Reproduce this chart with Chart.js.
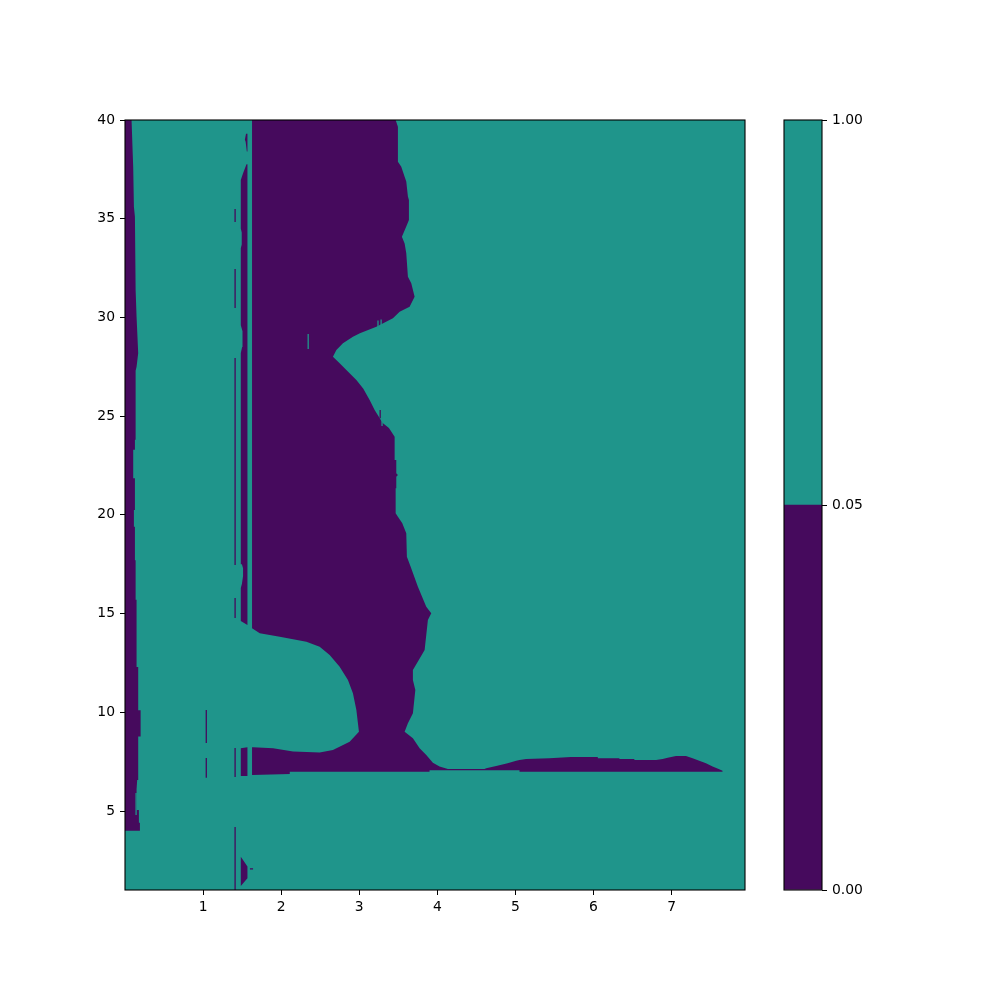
<!DOCTYPE html>
<html>
<head>
<meta charset="utf-8">
<script src="https://cdn.jsdelivr.net/npm/chart.js@4.4.1/dist/chart.umd.min.js"></script>
<style>
  html, body { margin: 0; padding: 0; background: #ffffff; }
  #wrap { position: relative; width: 1000px; height: 1000px; }
  canvas { position: absolute; left: 0; top: 0; }
</style>
</head>
<body>
<div id="wrap">
  <canvas id="main" width="1000" height="1000"></canvas>
  <canvas id="cbar" width="1000" height="1000"></canvas>
</div>
<script>
// ---------------- data ----------------
const xDomain = [0, 7.94];
const yDomain = [1, 40];
const xTickValues = [1, 2, 3, 4, 5, 6, 7];
const yTickValues = [5, 10, 15, 20, 25, 30, 35, 40];
const colorbarLevels = [0.00, 0.05, 1.00];
const levelColors = ['#460a5d', '#1f958b'];   // [0, 0.05) , [0.05, 1]

// regions with value < 0.05 (polygons, data coordinates [x, y])
const leftStripRegion = [
  [0, 40], [0.084, 40], [0.097, 38.48], [0.105, 37.63], [0.114, 35.61], [0.127, 35.1],
  [0.136, 31.39], [0.148, 30.04], [0.169, 28.18], [0.148, 27.5], [0.136, 27.3], [0.136, 23.8],
  [0.127, 23.8], [0.127, 23.3], [0.105, 23.3], [0.105, 21.85], [0.127, 21.85], [0.127, 20.25],
  [0.114, 20.25], [0.114, 19.4], [0.127, 19.4], [0.127, 17.7], [0.136, 17.7], [0.136, 15.7],
  [0.148, 15.7], [0.148, 12.3], [0.169, 12.3], [0.169, 10.1], [0.2, 10.1], [0.2, 8.77],
  [0.169, 8.77], [0.169, 6.57], [0.156, 6.57], [0.148, 6.1], [0.148, 5.05], [0.178, 5.05],
  [0.178, 4.4], [0.191, 4.4], [0.191, 4.0], [0, 4.0]
];
const narrowBlobRegion = [
  [1.55, 39.3], [1.568, 39.3], [1.568, 38.4], [1.56, 38.4], [1.545, 38.9], [1.535, 39.0]
];
const narrowStripRegion = [
  [1.556, 37.76], [1.568, 37.76], [1.568, 14.42], [1.483, 14.63], [1.483, 16.3], [1.497, 16.5],
  [1.512, 16.9], [1.512, 17.3], [1.497, 17.5], [1.483, 17.5], [1.483, 28.2], [1.50, 28.5],
  [1.51, 28.8], [1.50, 29.3], [1.483, 29.6], [1.483, 33.5], [1.495, 33.7], [1.495, 34.3],
  [1.483, 34.5], [1.483, 36.96], [1.512, 37.3]
];
const narrowLowRegion = [
  [1.483, 8.18], [1.568, 8.23], [1.568, 6.77], [1.483, 6.77]
];
const smallTriangleRegion = [
  [1.483, 2.69], [1.568, 2.19], [1.568, 1.60], [1.483, 1.20]
];
const mainRegion = [
  [1.627, 40], [3.466, 40], [3.495, 39.66], [3.495, 37.89], [3.538, 37.63], [3.581, 37.13],
  [3.602, 36.88], [3.623, 36.12], [3.636, 35.95], [3.636, 34.94], [3.602, 34.6], [3.546, 34.09],
  [3.581, 33.75], [3.602, 33.25], [3.623, 32.06], [3.666, 31.73], [3.709, 31.05], [3.645, 30.54],
  [3.517, 30.29], [3.431, 29.96], [3.219, 29.53], [3.008, 29.2], [2.919, 29.02], [2.791, 28.69],
  [2.707, 28.35], [2.663, 28.01], [2.749, 27.68], [2.835, 27.34], [2.963, 26.83], [3.05, 26.4],
  [3.133, 25.82], [3.197, 25.31], [3.30, 24.65], [3.38, 24.4], [3.453, 23.96], [3.453, 22.78],
  [3.474, 22.78], [3.474, 22.11], [3.495, 22.02], [3.474, 21.93], [3.474, 21.35], [3.466, 21.35],
  [3.466, 20.08], [3.495, 19.91], [3.551, 19.57], [3.602, 19.07], [3.610, 17.88], [3.657, 17.38],
  [3.751, 16.36], [3.858, 15.35], [3.922, 15.02], [3.879, 14.68], [3.837, 13.16], [3.80, 12.9],
  [3.687, 12.14], [3.687, 11.64], [3.718, 11.13], [3.687, 9.95], [3.623, 9.45], [3.581, 9.02],
  [3.687, 8.68], [3.773, 8.18], [3.858, 7.84], [3.943, 7.45], [4.028, 7.25], [4.135, 7.13],
  [4.604, 7.13], [4.626, 7.17], [4.754, 7.28], [4.90, 7.42], [5.01, 7.55], [5.052, 7.58],
  [5.138, 7.64], [5.436, 7.67], [5.713, 7.74], [6.055, 7.74], [6.055, 7.67], [6.331, 7.67],
  [6.331, 7.64], [6.523, 7.64], [6.523, 7.58], [6.801, 7.58], [6.885, 7.64], [6.95, 7.70],
  [7.056, 7.79], [7.184, 7.79], [7.269, 7.67], [7.354, 7.55], [7.44, 7.42], [7.525, 7.25],
  [7.61, 7.11], [7.652, 7.04], [7.652, 6.99], [5.052, 6.99], [5.052, 7.07], [3.90, 7.07],
  [3.90, 6.99], [2.11, 6.99], [2.11, 6.88], [1.627, 6.82], [1.627, 8.23], [1.640, 8.23],
  [1.896, 8.18], [2.152, 8.01], [2.493, 7.96], [2.663, 8.09], [2.877, 8.51], [2.996, 9.02],
  [2.963, 10.12], [2.919, 10.96], [2.855, 11.64], [2.749, 12.31], [2.621, 12.90], [2.493, 13.32],
  [2.323, 13.58], [1.982, 13.83], [1.726, 14.00], [1.627, 14.26]
];

// thin vertical streaks: x position and [yTop, yBottom] spans
const lowStreakX = [1.41, 1.041, 3.268];
const lowStreakSpans = [
  [[35.49, 34.84], [32.45, 30.48], [27.95, 17.46], [15.79, 14.78], [8.19, 6.72], [4.19, 1.0]],
  [[10.12, 8.44], [7.69, 6.68]],
  [[25.31, 24.9]]
];
const highStreakX = [0.142, 2.346, 3.24, 3.28, 3.292];
const highStreakSpans = [
  [[5.91, 4.8]],
  [[29.16, 28.40]],
  [[29.84, 29.45]],
  [[29.9, 29.6]],
  [[25.0, 24.5]]
];
const lowHook = [[1.60, 2.07], [1.64, 2.07]];

// ---------------- chart ----------------
Chart.defaults.font.family = "'DejaVu Sans', 'Liberation Sans', sans-serif";
Chart.defaults.font.size = 13.9;
Chart.defaults.color = '#000000';

function polygonDataset(points, color, order) {
  return {
    data: points.map(([x, y]) => ({ x, y })),
    showLine: true,
    fill: 'shape',
    backgroundColor: color,
    borderColor: color,
    borderWidth: 0,
    pointRadius: 0,
    pointHoverRadius: 0,
    tension: 0,
    order
  };
}
function streakDataset(x, spans, color, width, order) {
  const data = [];
  spans.forEach(([a, b]) => {
    data.push({ x, y: a }, { x, y: b }, { x, y: null });
  });
  return {
    data, showLine: true, fill: false, spanGaps: false,
    borderColor: color, backgroundColor: color, borderWidth: width,
    pointRadius: 0, pointHoverRadius: 0, order
  };
}

const background = [
  [xDomain[0], yDomain[0]], [xDomain[1], yDomain[0]],
  [xDomain[1], yDomain[1]], [xDomain[0], yDomain[1]]
];

const datasets = [];
datasets.push(polygonDataset(background, levelColors[1], 10));
[leftStripRegion, narrowBlobRegion, narrowStripRegion, narrowLowRegion, smallTriangleRegion, mainRegion]
  .forEach(r => datasets.push(polygonDataset(r, levelColors[0], 5)));
lowStreakX.forEach((x, i) => datasets.push(streakDataset(x, lowStreakSpans[i], levelColors[0], 1.3, 2)));
highStreakX.forEach((x, i) => datasets.push(streakDataset(x, highStreakSpans[i], levelColors[1], 1.3, 1)));
datasets.push({
  data: lowHook.map(([x, y]) => ({ x, y })), showLine: true, fill: false,
  borderColor: levelColors[0], borderWidth: 1.3, pointRadius: 0, order: 1
});

const framePlugin = {
  id: 'frame',
  afterDraw(chart) {
    const { ctx, chartArea: a } = chart;
    ctx.save();
    ctx.strokeStyle = '#000000';
    ctx.lineWidth = 1.1;
    ctx.strokeRect(a.left, a.top, a.right - a.left, a.bottom - a.top);
    ctx.restore();
  }
};

new Chart(document.getElementById('main'), {
  type: 'scatter',
  data: { datasets },
  plugins: [framePlugin],
  options: {
    responsive: false,
    animation: false,
    events: [],
    layout: { padding: { left: 0, right: 255, top: 120, bottom: 0 } },
    plugins: { legend: { display: false }, tooltip: { enabled: false } },
    scales: {
      x: {
        type: 'linear',
        min: xDomain[0], max: xDomain[1],
        afterBuildTicks: s => { s.ticks = xTickValues.map(v => ({ value: v })); },
        afterFit: s => { s.height = 110; },
        ticks: { padding: 4, callback: v => String(v), maxRotation: 0, autoSkip: false },
        grid: { display: true, drawOnChartArea: false, drawTicks: true, tickLength: 5, color: '#000000', lineWidth: 1 },
        border: { display: false }
      },
      y: {
        type: 'linear',
        min: yDomain[0], max: yDomain[1],
        afterBuildTicks: s => { s.ticks = yTickValues.map(v => ({ value: v })); },
        afterFit: s => { s.width = 125; },
        ticks: { padding: 5, callback: v => String(v), autoSkip: false },
        grid: { display: true, drawOnChartArea: false, drawTicks: true, tickLength: 5, color: '#000000', lineWidth: 1 },
        border: { display: false }
      }
    }
  }
});

// ---------------- colorbar ----------------
const cbDatasets = levelColors.map((c, i) => ({
  data: [[i, i + 1]],
  backgroundColor: c,
  borderWidth: 0,
  grouped: false,
  barPercentage: 1,
  categoryPercentage: 1
}));

new Chart(document.getElementById('cbar'), {
  type: 'bar',
  data: { labels: [''], datasets: cbDatasets },
  plugins: [framePlugin],
  options: {
    responsive: false,
    animation: false,
    events: [],
    layout: { padding: { left: 784, right: 0, top: 120, bottom: 110 } },
    plugins: { legend: { display: false }, tooltip: { enabled: false } },
    scales: {
      x: { display: false },
      y: {
        position: 'right',
        min: 0, max: colorbarLevels.length - 1,
        afterBuildTicks: s => { s.ticks = colorbarLevels.map((v, i) => ({ value: i })); },
        afterFit: s => { s.width = 178; },
        ticks: { padding: 5, callback: v => colorbarLevels[v].toFixed(2), autoSkip: false },
        grid: { display: true, drawOnChartArea: false, drawTicks: true, tickLength: 5, color: '#000000', lineWidth: 1 },
        border: { display: false }
      }
    }
  }
});
</script>
</body>
</html>
